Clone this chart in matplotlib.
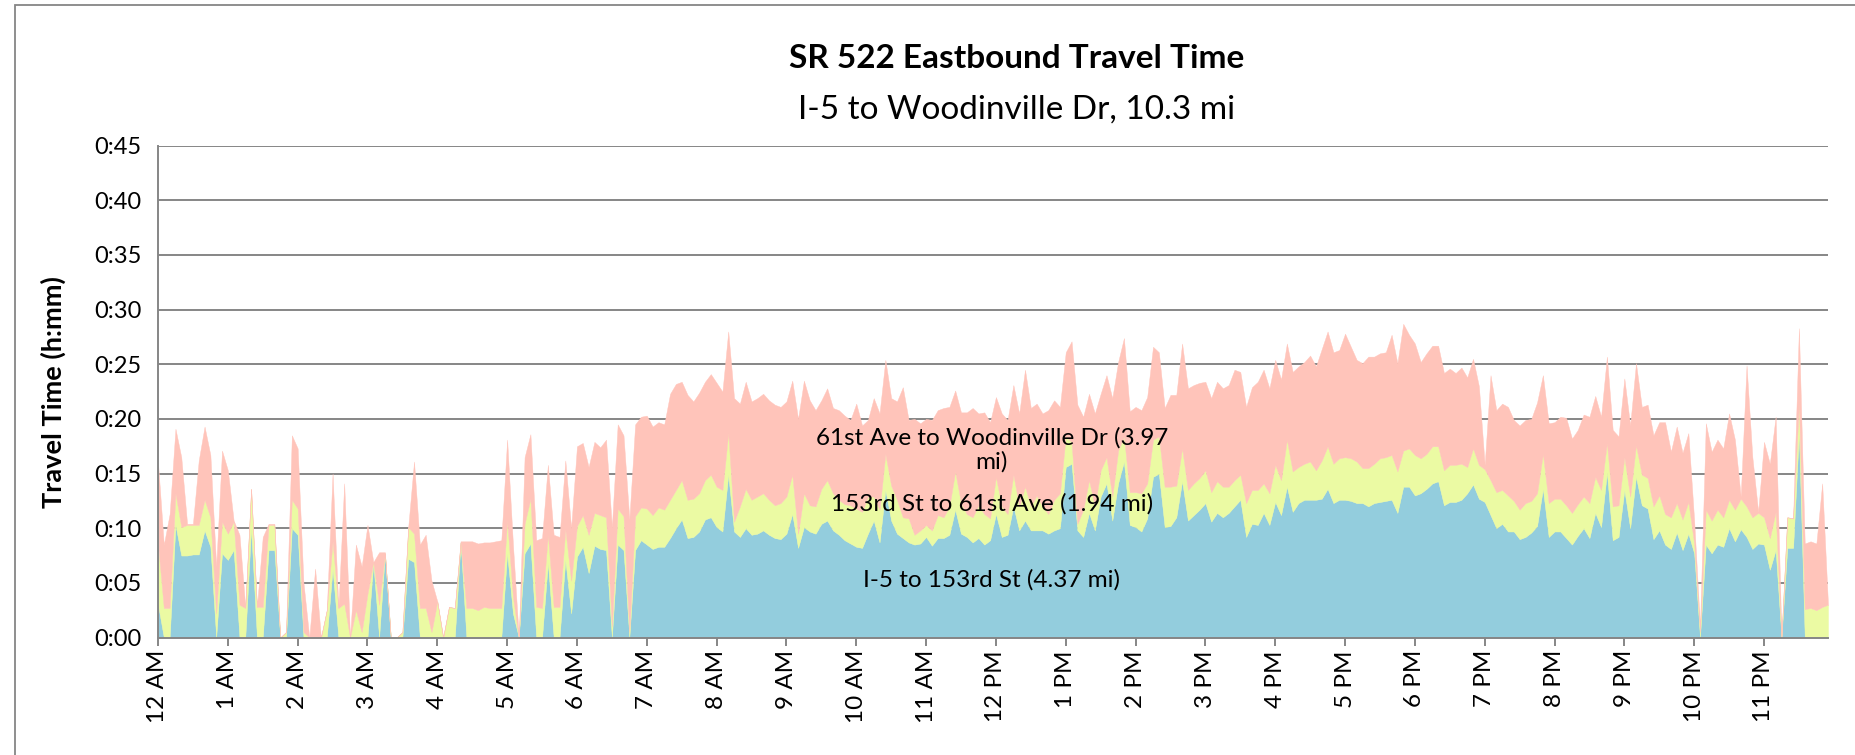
import matplotlib
matplotlib.use("Agg")
import matplotlib.pyplot as plt
from matplotlib.patches import Rectangle
from matplotlib.ticker import FixedLocator, FuncFormatter

# Segment travel times in minutes, one value per 5-minute interval (00:00 .. 23:55)
i5_to_153rd = [
    3.0, 0, 0, 10.3, 7.5, 7.5, 7.6, 7.6, 9.8, 8.3, 0, 7.7,
    7.1, 8.0, 0, 0, 10.0, 0, 0, 8.0, 8.0, 0, 0, 10.0,
    9.4, 0, 0, 0, 0, 0, 6.3, 0, 0, 0, 0, 0,
    0, 6.8, 0, 7.7, 0, 0, 0, 7.2, 6.9, 0, 0, 0,
    0, 0, 0, 0, 8.7, 0, 0, 0, 0, 0, 0, 0,
    7.7, 2.2, 0, 7.7, 8.6, 0, 0, 6.8, 0, 0, 7.1, 2.2,
    7.4, 8.3, 5.9, 8.4, 8.1, 8.0, 0, 8.5, 8.0, 0, 8.0, 8.9,
    8.5, 8.1, 8.3, 8.3, 9.1, 10.0, 10.8, 9.1, 9.2, 9.7, 10.8, 11.0,
    10.1, 9.7, 14.9, 9.7, 9.2, 10.0, 9.4, 9.5, 9.8, 9.4, 9.1, 9.0,
    9.5, 11.3, 8.2, 10.1, 9.7, 9.5, 10.4, 10.7, 9.8, 9.4, 8.9, 8.6,
    8.3, 8.2, 9.5, 10.7, 8.7, 13.5, 10.7, 9.5, 9.1, 8.7, 8.5, 8.6,
    9.2, 8.4, 9.1, 9.1, 9.4, 11.7, 9.5, 9.2, 8.7, 9.1, 8.5, 8.9,
    11.3, 9.2, 9.4, 12.0, 9.8, 10.7, 9.8, 9.8, 9.8, 9.5, 9.8, 10.0,
    15.6, 15.9, 9.8, 9.2, 11.4, 9.8, 12.9, 14.1, 10.7, 14.1, 16.1, 10.3,
    10.1, 9.7, 10.9, 14.7, 15.0, 10.1, 10.2, 11.0, 14.3, 10.7, 11.2, 11.7,
    12.3, 10.6, 11.4, 11.0, 11.4, 12.0, 12.6, 9.2, 10.4, 10.3, 11.4, 10.3,
    12.4, 11.2, 13.8, 11.5, 12.3, 12.6, 12.6, 12.6, 12.7, 13.6, 12.3, 12.6,
    12.6, 12.5, 12.3, 12.3, 12.0, 12.3, 12.4, 12.5, 12.6, 11.4, 13.8, 13.8,
    13.0, 13.2, 13.6, 14.1, 14.3, 12.1, 12.4, 12.4, 12.6, 13.2, 14.0, 12.7,
    12.4, 11.2, 10.0, 10.4, 9.7, 9.7, 9.0, 9.2, 9.6, 10.2, 13.6, 9.2,
    9.7, 9.7, 9.1, 8.5, 9.3, 10.0, 9.1, 11.4, 10.1, 15.1, 8.9, 9.2,
    13.5, 10.0, 14.7, 12.1, 11.8, 9.0, 9.8, 8.5, 8.1, 9.6, 8.0, 9.5,
    7.7, 0, 8.5, 7.7, 8.5, 8.3, 10.0, 8.8, 9.9, 9.2, 8.1, 8.6,
    8.5, 6.2, 8.0, 0, 8.2, 8.2, 18.7, 0, 0, 0, 0, 0,
]

st153_to_61st = [
    5.5, 2.7, 2.7, 2.9, 2.6, 2.8, 2.7, 2.7, 2.8, 2.7, 2.2, 2.9,
    2.4, 2.6, 3.0, 2.7, 3.6, 2.8, 2.8, 2.3, 2.3, 0, 0.5, 2.6,
    2.4, 0.5, 0, 0, 0, 2.5, 2.5, 2.7, 3.1, 0, 2.5, 0.5,
    4.0, 0.1, 3.0, 0, 0, 0, 0.5, 2.9, 2.6, 2.7, 2.7, 0.5,
    3.3, 0, 2.8, 2.7, 0, 2.7, 2.7, 2.5, 2.8, 2.7, 2.7, 2.7,
    3.0, 1.5, 0, 2.7, 4.1, 2.8, 2.7, 2.6, 2.8, 2.8, 2.8, 3.0,
    2.8, 2.9, 3.5, 3.0, 3.1, 3.0, 1.0, 3.3, 3.1, 0.5, 3.1, 3.0,
    3.3, 3.1, 3.6, 3.4, 3.5, 3.5, 3.6, 3.5, 3.5, 3.5, 3.6, 3.9,
    3.7, 3.8, 3.8, 0.9, 2.8, 3.6, 3.2, 3.4, 3.4, 3.2, 3.0, 3.3,
    3.4, 3.6, 1.3, 3.1, 2.4, 2.5, 3.2, 3.7, 3.4, 3.2, 3.3, 3.5,
    3.5, 3.3, 3.4, 2.2, 3.0, 3.3, 3.2, 3.1, 1.9, 2.2, 0.9, 1.2,
    1.1, 1.4, 2.1, 1.9, 2.6, 3.5, 2.8, 2.1, 2.3, 3.0, 2.8, 2.0,
    3.4, 2.8, 1.9, 2.9, 2.2, 3.1, 2.2, 3.2, 2.2, 1.8, 2.8, 3.2,
    2.8, 2.0, 0.6, 2.5, 3.0, 2.2, 2.4, 2.4, 2.2, 3.0, 2.3, 3.0,
    3.2, 3.5, 3.2, 3.4, 3.4, 3.7, 3.6, 2.9, 3.0, 2.8, 2.9, 2.9,
    3.0, 2.7, 2.9, 2.8, 2.4, 2.4, 2.3, 3.1, 3.1, 3.2, 2.7, 2.9,
    3.4, 3.2, 4.3, 3.7, 3.3, 3.3, 3.5, 2.7, 3.5, 3.9, 3.6, 3.8,
    3.9, 3.9, 3.8, 3.2, 3.5, 3.6, 4.0, 4.0, 4.1, 3.8, 3.3, 3.5,
    3.7, 3.2, 3.2, 3.4, 3.2, 3.2, 3.4, 3.4, 3.3, 2.4, 3.3, 3.1,
    3.0, 3.2, 3.3, 3.1, 3.3, 2.8, 2.7, 3.1, 2.9, 3.0, 3.2, 3.1,
    3.0, 3.0, 3.0, 2.9, 2.9, 2.9, 3.2, 3.3, 3.4, 2.7, 3.1, 2.9,
    3.0, 2.9, 2.9, 2.8, 2.8, 3.0, 3.2, 2.8, 2.9, 2.7, 2.8, 2.9,
    0.9, 0.5, 3.2, 3.0, 3.2, 2.7, 2.6, 2.9, 2.8, 2.8, 2.9, 2.8,
    2.5, 2.9, 3.5, 0, 2.8, 2.7, 2.7, 2.6, 2.7, 2.5, 2.8, 3.0,
]

ave61_to_woodinville = [
    7.5, 5.8, 8.6, 5.9, 6.4, 0.1, 0.1, 5.9, 6.7, 5.7, 4.3, 6.5,
    5.8, 0.1, 6.4, 0.1, 0, 0, 6.4, 0.1, 0.1, 0, 0, 5.9,
    5.5, 4.5, 0, 6.3, 0, 0, 6.2, 0, 11.0, 0, 6.0, 6.0,
    6.3, 0, 4.8, 0.1, 0, 0, 0, 0, 6.6, 5.8, 6.7, 4.7,
    0, 0, 0, 0, 0.1, 6.1, 6.1, 6.1, 5.9, 6.0, 6.1, 6.2,
    7.4, 4.8, 0, 6.1, 5.9, 6.1, 6.4, 6.4, 6.6, 6.4, 6.3, 4.8,
    7.3, 6.6, 6.2, 6.5, 6.2, 7.1, 9.1, 7.7, 7.4, 10.3, 8.4, 8.3,
    8.5, 8.1, 7.8, 7.8, 9.7, 9.7, 9.0, 9.6, 8.9, 9.2, 9.0, 9.2,
    9.5, 9.0, 9.3, 11.3, 9.4, 9.8, 9.0, 9.0, 9.1, 9.1, 9.2, 8.8,
    8.7, 8.6, 10.5, 10.3, 9.6, 8.8, 8.1, 8.4, 7.8, 8.2, 8.1, 7.8,
    9.6, 7.9, 7.0, 9.0, 8.8, 8.6, 8.0, 9.0, 11.9, 9.0, 10.6, 9.8,
    9.7, 10.1, 9.6, 10.0, 9.1, 7.4, 8.3, 9.3, 10.0, 8.4, 9.3, 8.8,
    7.3, 8.5, 8.6, 8.2, 8.5, 10.7, 9.0, 8.4, 8.5, 9.5, 9.1, 7.9,
    7.7, 9.2, 10.9, 8.5, 7.9, 8.5, 7.0, 7.5, 9.0, 8.1, 9.0, 7.4,
    7.8, 7.6, 7.9, 8.5, 7.7, 7.2, 8.4, 8.3, 9.6, 9.3, 9.0, 8.7,
    8.1, 8.6, 9.1, 9.0, 9.3, 10.1, 9.4, 8.8, 9.4, 9.9, 10.4, 9.6,
    9.6, 9.2, 8.8, 9.1, 9.2, 9.3, 9.7, 9.5, 10.2, 10.5, 10.2, 9.9,
    11.3, 10.2, 9.3, 9.6, 10.2, 9.8, 9.6, 9.6, 11.0, 9.9, 11.6, 10.4,
    10.2, 8.8, 9.2, 9.2, 9.2, 8.9, 8.8, 8.4, 8.8, 8.2, 8.2, 7.2,
    0.4, 9.6, 7.5, 7.9, 8.1, 7.4, 7.7, 7.6, 7.5, 8.3, 7.2, 7.3,
    7.0, 7.5, 8.0, 6.8, 6.8, 7.5, 7.9, 7.4, 6.7, 7.9, 7.0, 6.3,
    7.2, 6.5, 7.5, 6.2, 6.7, 6.5, 6.7, 8.4, 6.0, 7.0, 6.1, 6.3,
    2.1, 0.5, 7.9, 6.3, 6.4, 6.3, 7.9, 6.4, 0.2, 12.9, 5.5, 0.1,
    6.9, 6.8, 8.7, 0, 0, 0, 6.9, 6.0, 6.1, 6.1, 11.3, 0,
]

hour_labels = ["12 AM"] + [f"{h} AM" for h in range(1, 12)] + \
              ["12 PM"] + [f"{h} PM" for h in range(1, 12)]
series_names = ["I-5 to 153rd St (4.37 mi)",
                "153rd St to 61st Ave (1.94 mi)",
                "61st Ave to Woodinville Dr (3.97\nmi)"]
series_colors = ["#93CDDD", "#EBFAA3", "#FFC4BA"]

FONT = "Lato"
GRID = "#868686"
W, H = 1856, 755

fig = plt.figure(figsize=(W / 100, H / 100), dpi=100)
fig.patch.set_facecolor("white")

# chart-area border (left and top edges visible)
fig.patches.append(Rectangle((15 / W, -0.05), 1.2, 1.05 - 5 / H,
                             transform=fig.transFigure, fill=False,
                             edgecolor=GRID, linewidth=1.3))

ax = fig.add_axes([158 / W, (H - 637.5) / H, 1670 / W, 491.8 / H])
x = list(range(len(i5_to_153rd)))
ax.stackplot(x, i5_to_153rd, st153_to_61st, ave61_to_woodinville,
             colors=series_colors, linewidth=0.3,
             edgecolor="face")

ax.set_xlim(0, len(x) - 1)
ax.set_ylim(0, 45)
ax.set_axisbelow(True)

ax.yaxis.set_major_locator(FixedLocator(range(0, 46, 5)))
ax.yaxis.set_major_formatter(FuncFormatter(lambda v, p: f"0:{int(v):02d}"))
ax.yaxis.grid(True, color=GRID, linewidth=1.4)
ax.tick_params(axis="y", length=0, pad=12, labelsize=17, labelcolor="black")

ax.set_xticks(range(0, len(x), 12))
ax.set_xticklabels(hour_labels, rotation=90, fontsize=17.5)
ax.tick_params(axis="x", direction="out", length=6, width=1.4,
               color=GRID, pad=3)

for s in ("top", "right"):
    ax.spines[s].set_visible(False)
for s in ("left", "bottom"):
    ax.spines[s].set_color(GRID)
    ax.spines[s].set_linewidth(1.4)

for lab in ax.get_xticklabels() + ax.get_yticklabels():
    lab.set_fontfamily(FONT)

# series labels placed inside their bands
label_pos = [(143.3, 5.3), (143.3, 12.2), (143.3, 17.2)]
for name, (lx, ly) in zip(series_names, label_pos):
    ax.text(lx, ly, name, ha="center", va="center", fontsize=17.5,
            family=FONT, color="black", linespacing=1.15)

fig.text(1017 / W, 1 - 59 / H, "SR 522 Eastbound Travel Time",
         ha="center", va="center", fontsize=24, fontweight="bold",
         family=FONT)
fig.text(1017 / W, 1 - 110 / H, "I-5 to Woodinville Dr, 10.3 mi",
         ha="center", va="center", fontsize=24, family=FONT)
fig.text(53 / W, 1 - 391.6 / H, "Travel Time (h:mm)", rotation=90,
         ha="center", va="center", fontsize=19.5, fontweight="bold",
         family=FONT)

fig.savefig("out.png", dpi=100)
